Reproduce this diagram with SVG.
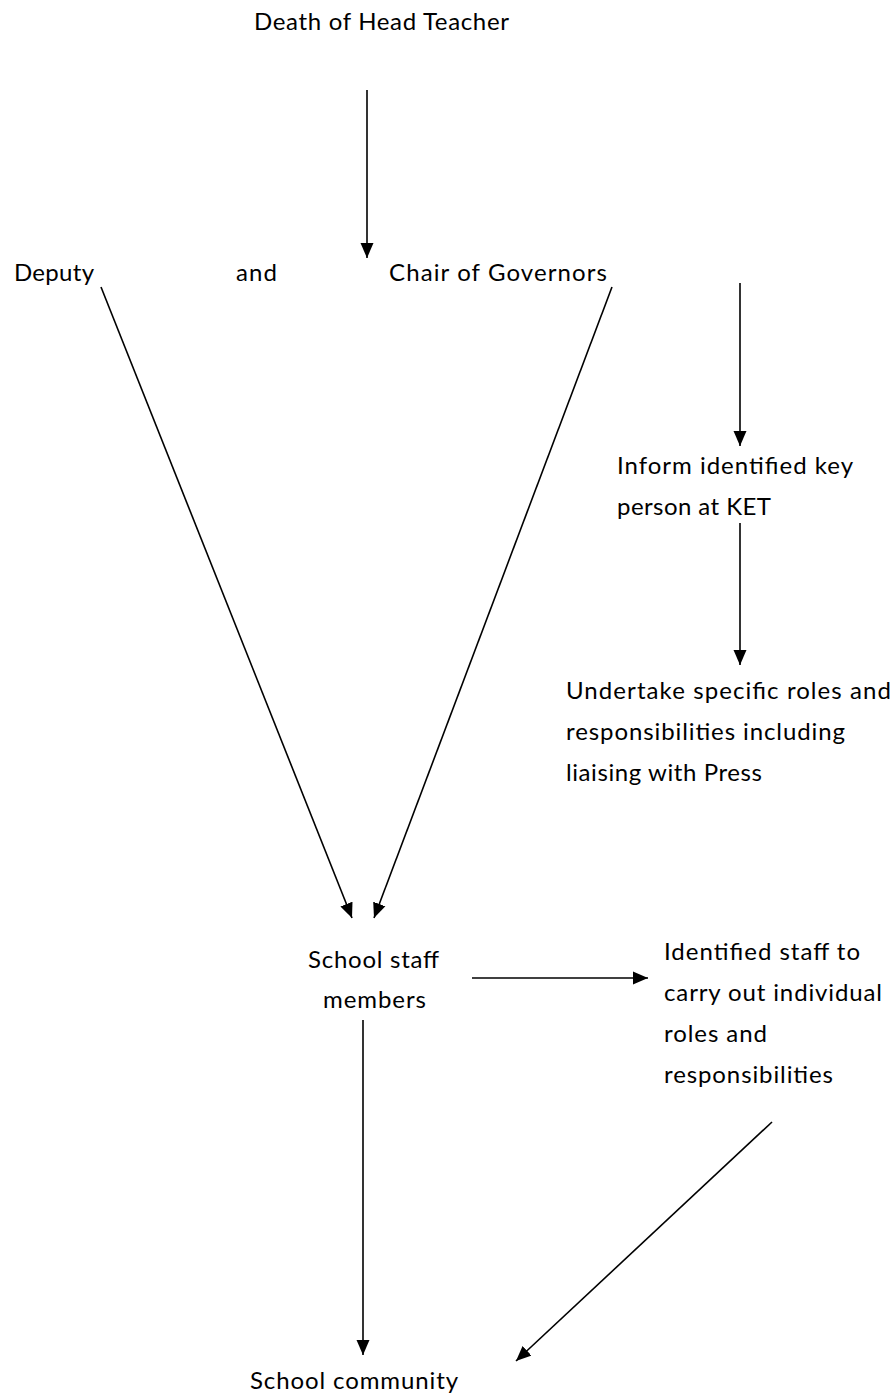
<svg xmlns="http://www.w3.org/2000/svg" width="896" height="1397" viewBox="0 0 896 1397">
<defs>
<style>
text{font-family:Lato,"Open Sans","Liberation Sans",sans-serif;font-size:24px;fill:#000}
.c line{stroke:#000;stroke-width:1.6;fill:none;marker-end:url(#ah)}
</style>
<marker id="ah" markerUnits="userSpaceOnUse" markerWidth="16" markerHeight="14" refX="15" refY="7" orient="auto">
<path d="M0,0.5 L15,7 L0,13.5 z" fill="#000"/>
</marker>
</defs>
<rect width="896" height="1397" fill="#fff"/>
<g id="n-death"><text x="254" y="30" textLength="255">Death of Head Teacher</text></g>
<g id="n-deputy"><text x="14" y="281" textLength="80">Deputy</text></g>
<g id="n-and"><text x="236" y="281" textLength="41">and</text></g>
<g id="n-chair"><text x="389" y="281" textLength="218">Chair of Governors</text></g>
<g id="n-inform"><text x="617" y="474" textLength="236">Inform identified key</text><text x="617" y="515" textLength="154">person at KET</text></g>
<g id="n-undertake"><text x="566" y="699" textLength="325">Undertake specific roles and</text><text x="566" y="740" textLength="279">responsibilities including</text><text x="566" y="781" textLength="196">liaising with Press</text></g>
<g id="n-staff"><text x="308" y="968" textLength="131">School staff</text><text x="323" y="1008" textLength="103">members</text></g>
<g id="n-identified"><text x="664" y="960" textLength="196">Identified staff to</text><text x="664" y="1001" textLength="218">carry out individual</text><text x="664" y="1042" textLength="103">roles and</text><text x="664" y="1083" textLength="169">responsibilities</text></g>
<g id="n-community"><text x="250" y="1389" textLength="208">School community</text></g>
<g id="connectors" class="c">
<line x1="367" y1="90" x2="367" y2="258"/>
<line x1="101" y1="287" x2="352" y2="918"/>
<line x1="612" y1="287" x2="374" y2="918"/>
<line x1="740" y1="283" x2="740" y2="446"/>
<line x1="740" y1="523" x2="740" y2="665"/>
<line x1="472" y1="978" x2="648" y2="978"/>
<line x1="363" y1="1020" x2="363" y2="1355"/>
<line x1="772" y1="1122" x2="516" y2="1361"/>
</g>
</svg>
